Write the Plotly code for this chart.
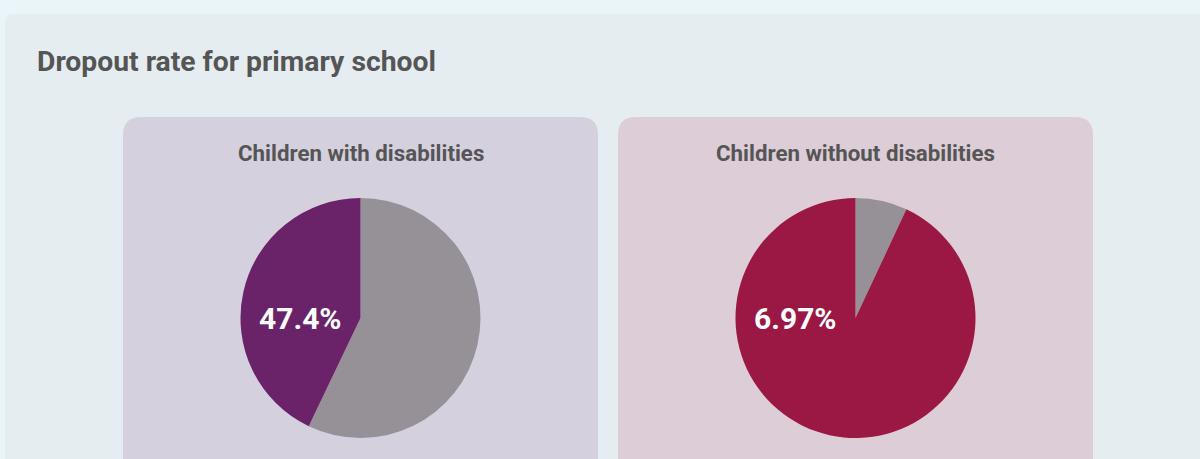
import plotly.graph_objects as go

# ---- data ----
groups = ["Children with disabilities", "Children without disabilities"]
label_texts = ["47.4%", "6.97%"]
gray_share = [57.1, 6.97]        # grey slice, clockwise from 12 o'clock
colour_share = [42.9, 93.03]     # coloured slice
slice_colours = ["#6a2369", "#9b1844"]
panel_colours = ["#d5d0de", "#dccdd6"]

W, H = 1200, 459
fig = go.Figure()

# hidden pixel axes for drawing panels
fig.update_layout(
    xaxis=dict(range=[0, W], visible=False, fixedrange=True, domain=[0, 1]),
    yaxis=dict(range=[H, 0], visible=False, fixedrange=True, domain=[0, 1]),
)


def rrect(x0, y0, x1, y1, r):
    return (f"M{x0+r},{y0} L{x1-r},{y0} Q{x1},{y0} {x1},{y0+r} L{x1},{y1-r} "
            f"Q{x1},{y1} {x1-r},{y1} L{x0+r},{y1} Q{x0},{y1} {x0},{y1-r} "
            f"L{x0},{y0+r} Q{x0},{y0} {x0+r},{y0} Z")


shapes = [dict(type="path", path=rrect(5, 14, 1230, 520, 8), xref="x", yref="y",
               fillcolor="#e5edf0", line=dict(width=0), layer="below")]

panel_x = [(123, 598), (618, 1093)]
for (x0, x1), pc in zip(panel_x, panel_colours):
    shapes.append(dict(type="path", path=rrect(x0, 117, x1, 520, 18), xref="x", yref="y",
                       fillcolor=pc, line=dict(width=0), layer="below"))

annotations = [dict(text="<b>Dropout rate for primary school</b>", x=35, y=61, xref="x", yref="y",
                    xanchor="left", yanchor="middle", showarrow=False,
                    font=dict(family="Roboto", size=28.3, color="#555555"))]

cy, r = 318, 120
for i, g in enumerate(groups):
    x0, x1 = panel_x[i]
    cx = (x0 + x1) / 2
    annotations.append(dict(text=f"<b>{g}</b>", x=cx, y=153, xref="x", yref="y",
                            xanchor="center", yanchor="middle", showarrow=False,
                            font=dict(family="Roboto", size=22.3, color="#555555")))
    fig.add_trace(go.Pie(
        values=[gray_share[i], colour_share[i]],
        labels=["Other", "Highlighted"],
        marker=dict(colors=["#959196", slice_colours[i]], line=dict(width=0)),
        sort=False, direction="clockwise", rotation=0,
        textinfo="none", hoverinfo="skip", showlegend=False,
        domain=dict(x=[(cx - r) / W, (cx + r) / W], y=[1 - (cy + r) / H, 1 - (cy - r) / H]),
    ))
    annotations.append(dict(text=f"<b>{label_texts[i]}</b>", x=cx - 60, y=cy, xref="x", yref="y",
                            xanchor="center", yanchor="middle", showarrow=False,
                            font=dict(family="Roboto", size=30, color="#ffffff")))

fig.update_layout(
    width=W, height=H, margin=dict(l=0, r=0, t=0, b=0),
    paper_bgcolor="#eaf5fa", plot_bgcolor="rgba(0,0,0,0)",
    shapes=shapes, annotations=annotations, showlegend=False,
)

fig.write_html("out.html", config={"displayModeBar": False})
